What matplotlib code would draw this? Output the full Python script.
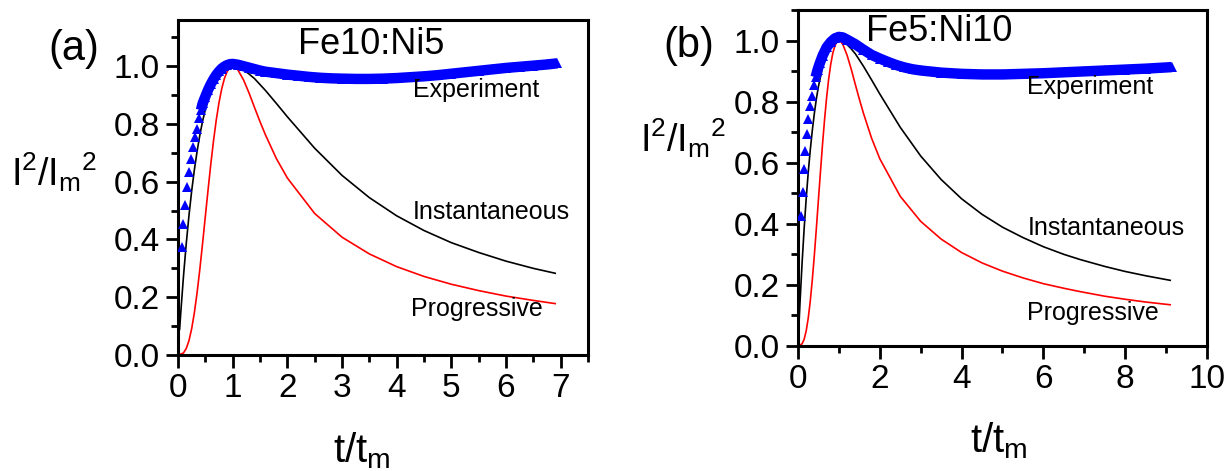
import numpy as np
import matplotlib.pyplot as plt
from matplotlib.ticker import MultipleLocator, FormatStrFormatter

#--------------------------------------------------------------------------------------
#Data

# theoretical curves, shared by both panels (left panel stops at t/tm = 6.9)
t_inst = [0.03, 0.05, 0.1, 0.15, 0.2, 0.25, 0.3, 0.35, 0.4, 0.45,
          0.5, 0.6, 0.7, 0.8, 0.9, 1.0, 1.1, 1.2, 1.3, 1.4,
          1.6, 1.8, 2.0, 2.5, 3.0, 3.5, 4.0, 4.5, 5.0, 5.5,
          6.0, 6.5, 6.9, 7.5, 8.0, 8.5, 9.1]
i_inst = [0.089, 0.145, 0.272, 0.384, 0.482, 0.568, 0.642, 0.706, 0.762, 0.810,
          0.850, 0.913, 0.955, 0.982, 0.996, 1.0, 0.996, 0.987, 0.973, 0.957,
          0.916, 0.871, 0.825, 0.716, 0.622, 0.545, 0.482, 0.431, 0.389, 0.355,
          0.325, 0.300, 0.283, 0.2605, 0.244, 0.230, 0.215]

t_prog = [0, 0.1, 0.15, 0.2, 0.25, 0.3, 0.35, 0.4, 0.45, 0.5,
          0.55, 0.6, 0.65, 0.7, 0.75, 0.8, 0.85, 0.9, 0.95, 1.0,
          1.05, 1.1, 1.2, 1.3, 1.4, 1.5, 1.6, 1.8, 2.0, 2.5,
          3.0, 3.5, 4.0, 4.5, 5.0, 5.5, 6.0, 6.5, 6.9, 7.5,
          8.0, 8.5, 9.1]
i_prog = [0, 0.007, 0.022, 0.049, 0.091, 0.147, 0.217, 0.298, 0.387, 0.480,
          0.572, 0.661, 0.742, 0.814, 0.874, 0.922, 0.958, 0.982, 0.996, 1.0,
          0.996, 0.986, 0.952, 0.907, 0.857, 0.808, 0.762, 0.680, 0.613, 0.490,
          0.408, 0.350, 0.306, 0.272, 0.245, 0.223, 0.204, 0.189, 0.178, 0.163,
          0.153, 0.144, 0.135]

# experiment, Fe10:Ni5
t_exp_a = [0.068, 0.097, 0.128, 0.158, 0.207, 0.238, 0.28, 0.31, 0.347, 0.378,
           0.42, 0.45, 0.5, 0.55, 0.6, 0.65, 0.7, 0.75, 0.8, 0.85,
           0.9, 0.95, 1.0, 1.1, 1.2, 1.3, 1.4, 1.5, 1.6, 1.8,
           2.0, 2.2, 2.4, 2.6, 2.8, 3.0, 3.25, 3.5, 3.75, 4.0,
           4.25, 4.5, 4.75, 5.0, 5.25, 5.5, 5.75, 6.0, 6.25, 6.5,
           6.75, 6.94]
i_exp_a = [0.374, 0.453, 0.52, 0.582, 0.634, 0.678, 0.72, 0.755, 0.784, 0.819,
           0.848, 0.871, 0.895, 0.918, 0.938, 0.955, 0.97, 0.982, 0.992, 0.999,
           1.004, 1.007, 1.008, 1.005, 1.0, 0.995, 0.99, 0.985, 0.981, 0.976,
           0.971, 0.967, 0.963, 0.96, 0.958, 0.957, 0.956, 0.956, 0.957, 0.959,
           0.962, 0.965, 0.969, 0.974, 0.979, 0.984, 0.989, 0.994, 0.998, 1.002,
           1.006, 1.010]

# experiment, Fe5:Ni10
t_exp_b = [0.073, 0.115, 0.139, 0.171, 0.22, 0.252, 0.3, 0.341, 0.383, 0.43,
           0.48, 0.53, 0.6, 0.7, 0.8, 0.9, 1.0, 1.1, 1.2, 1.4,
           1.6, 1.8, 2.0, 2.2, 2.4, 2.6, 2.8, 3.0, 3.5, 4.0,
           4.5, 5.0, 5.5, 6.0, 6.5, 7.0, 7.5, 8.0, 8.5, 9.14]
i_exp_b = [0.426, 0.505, 0.578, 0.64, 0.695, 0.742, 0.785, 0.82, 0.855, 0.88,
           0.905, 0.925, 0.95, 0.978, 0.995, 1.007, 1.012, 1.01, 1.003, 0.988,
           0.97, 0.953, 0.941, 0.93, 0.92, 0.912, 0.906, 0.902, 0.895, 0.891,
           0.889, 0.889, 0.891, 0.893, 0.896, 0.899, 0.902, 0.905, 0.908, 0.913]

#--------------------------------------------------------------------------------------
#Style
plt.rcParams['font.family'] = ['Liberation Sans', 'DejaVu Sans']
plt.rcParams['mathtext.fontset'] = 'custom'
plt.rcParams['mathtext.rm'] = 'Liberation Sans'
plt.rcParams['mathtext.it'] = 'Liberation Sans:italic'

W, H = 1228, 471
fig = plt.figure(figsize=(W/100, H/100), dpi=100)


def box(x0, y0, x1, y1):
    return [x0/W, 1-y1/H, (x1-x0)/W, (y1-y0)/H]


def style(ax, xmax, xmaj, xmin, ymax):
    ax.set_xlim(0, xmax)
    ax.set_ylim(0, ymax)
    ax.xaxis.set_major_locator(MultipleLocator(xmaj))
    ax.xaxis.set_minor_locator(MultipleLocator(xmin))
    ax.yaxis.set_major_locator(MultipleLocator(0.2))
    ax.yaxis.set_minor_locator(MultipleLocator(0.1))
    ax.yaxis.set_major_formatter(FormatStrFormatter('%.1f'))
    ax.tick_params(which='both', direction='out', width=2, top=False, right=False, labelsize=24)
    ax.tick_params(which='major', length=9, pad=4)
    ax.tick_params(which='minor', length=5)
    for s in ax.spines.values():
        s.set_linewidth(2.2)


def draw(ax, t_exp, i_exp, tmax):
    ti, ii = np.array(t_inst), np.array(i_inst)
    tp, ip = np.array(t_prog), np.array(i_prog)
    ax.plot(ti[ti <= tmax], ii[ti <= tmax], color='k', lw=1.2)
    ax.plot(tp[tp <= tmax], ip[tp <= tmax], color='r', lw=1.2)
    te, ie = np.array(t_exp), np.array(i_exp)
    # beyond t/tm ~ 0.4 the triangles overlap into a solid band
    dense = te >= 0.42
    ax.plot(te[dense], ie[dense], color='b', lw=7.5, solid_capstyle='butt', zorder=3)
    ax.plot(te, ie, ls='none', marker='^', ms=7.5, mew=0, color='b', zorder=4)


ax1 = fig.add_axes(box(178, 20, 588, 355))
style(ax1, 7.5, 1, 0.5, 1.16)
draw(ax1, t_exp_a, i_exp_a, 6.9)
ax1.text(3.53, 1.076, 'Fe10:Ni5', fontsize=26, ha='center', va='center')
ax1.text(4.30, 0.917, 'Experiment', fontsize=18, ha='left', va='center')
ax1.text(4.30, 0.495, 'Instantaneous', fontsize=18, ha='left', va='center')
ax1.text(4.26, 0.159, 'Progressive', fontsize=18, ha='left', va='center')

ax2 = fig.add_axes(box(798, 10, 1207, 346))
style(ax2, 10, 2, 1, 1.1)
draw(ax2, t_exp_b, i_exp_b, 9.1)
ax2.text(3.44, 1.03, 'Fe5:Ni10', fontsize=26, ha='center', va='center')
ax2.text(5.61, 0.849, 'Experiment', fontsize=18, ha='left', va='center')
ax2.text(5.61, 0.385, 'Instantaneous', fontsize=18, ha='left', va='center')
ax2.text(5.61, 0.109, 'Progressive', fontsize=18, ha='left', va='center')

# panel letters and axis labels
fig.text(74/W, 1-49/H, '(a)', fontsize=30, ha='center', va='center')
fig.text(689/W, 1-46/H, '(b)', fontsize=30, ha='center', va='center')
fig.text(11/W, 1-172/H, r'I$^2$/I$_\mathrm{m}$$^2$', fontsize=27, ha='left', va='center')
fig.text(640/W, 1-138/H, r'I$^2$/I$_\mathrm{m}$$^2$', fontsize=27, ha='left', va='center')
fig.text(362/W, 1-462/H, r't/t$_\mathrm{m}$', fontsize=29, ha='center', va='baseline')
fig.text(999/W, 1-452/H, r't/t$_\mathrm{m}$', fontsize=29, ha='center', va='baseline')

fig.savefig('out.png', dpi=100)
